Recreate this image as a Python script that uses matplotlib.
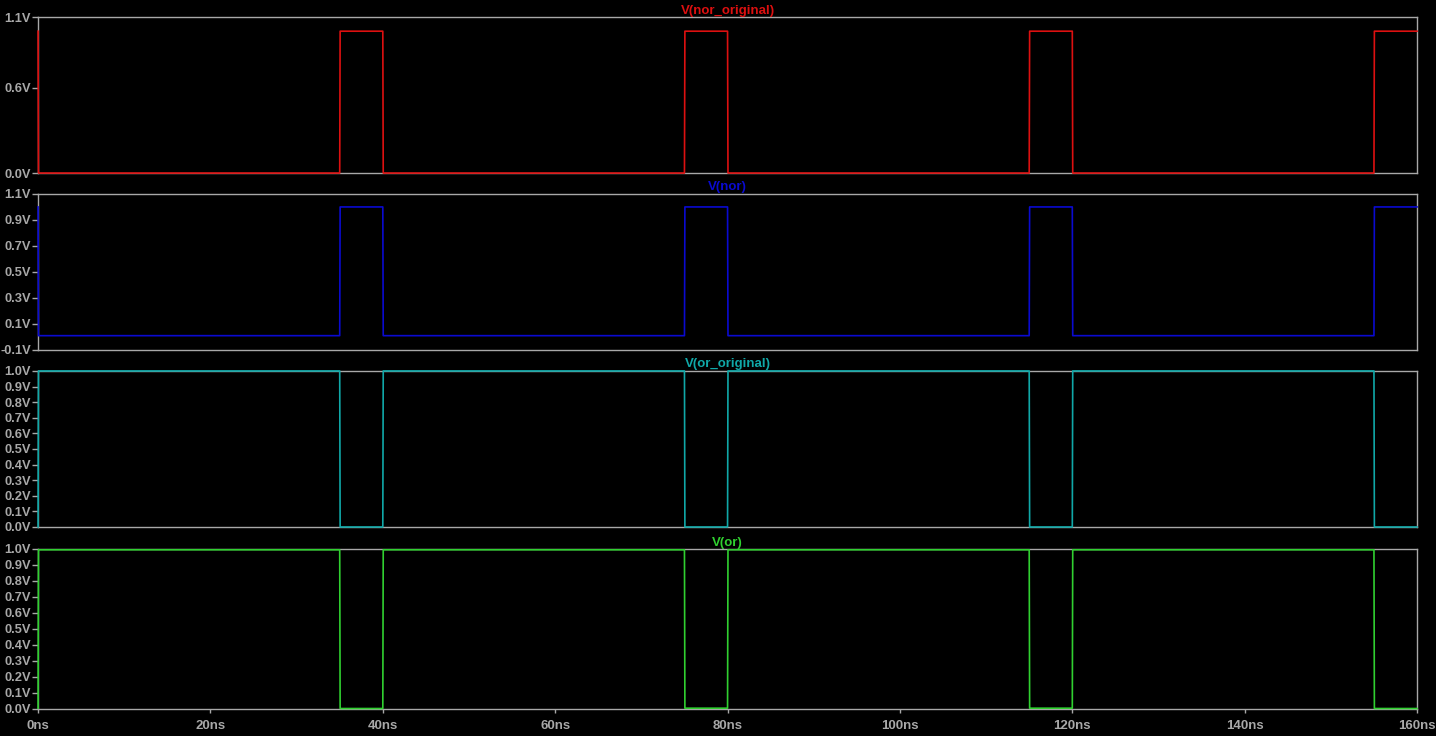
import numpy as np
import matplotlib
matplotlib.use('Agg')
import matplotlib.pyplot as plt

plt.rcParams['font.family'] = ['Liberation Sans', 'DejaVu Sans']
plt.rcParams['axes.unicode_minus'] = False

# transient waveforms (time in ns, volts)
t = [0, 0.05, 35, 35.05, 40, 40.05, 75, 75.05, 80, 80.05,
     115, 115.05, 120, 120.05, 155, 155.05, 160]
v_nor_original = [1.0, 0, 0, 1.0, 1.0, 0, 0, 1.0, 1.0, 0,
                  0, 1.0, 1.0, 0, 0, 1.0, 1.0]
v_nor = [1.0, 0.01, 0.01, 1.0, 1.0, 0.01, 0.01, 1.0, 1.0, 0.01,
         0.01, 1.0, 1.0, 0.01, 0.01, 1.0, 1.0]
v_or_original = [0, 1.0, 1.0, 0, 0, 1.0, 1.0, 0, 0, 1.0,
                 1.0, 0, 0, 1.0, 1.0, 0, 0]
v_or = [0.005, 0.995, 0.995, 0.003, 0.003, 0.995, 0.995, 0.005, 0.005, 0.995,
        0.995, 0.005, 0.005, 0.995, 0.995, 0.003, 0.003]

names = ['V(nor_original)', 'V(nor)', 'V(or_original)', 'V(or)']
colors = ['#dd1010', '#0a0ad0', '#10a8a8', '#30d030']
ylims = [(0, 1.1), (-0.1, 1.1), (0, 1.0), (0, 1.0)]
yticks = [[0, 0.6, 1.1],
          [-0.1, 0.1, 0.3, 0.5, 0.7, 0.9, 1.1],
          np.arange(0, 1.01, 0.1),
          np.arange(0, 1.01, 0.1)]
xticks = list(range(0, 161, 20))

# axes boxes in figure fraction (left, bottom, width, height)
boxes = [(0.0265, 0.7649, 0.9603, 0.2120),
         (0.0265, 0.5245, 0.9603, 0.2120),
         (0.0265, 0.2840, 0.9603, 0.2120),
         (0.0265, 0.0367, 0.9603, 0.2174)]

fig = plt.figure(figsize=(14.36, 7.36), dpi=100, facecolor='black')
grey = '#a8a8a8'

for i, v in enumerate([v_nor_original, v_nor, v_or_original, v_or]):
    ax = fig.add_axes(boxes[i], facecolor='black')
    ax.plot(t, v, color=colors[i], lw=1.2, zorder=3, clip_on=False)
    ax.set_xlim(0, 160)
    ax.set_ylim(*ylims[i])
    for s in ax.spines.values():
        s.set_color(grey)
        s.set_linewidth(1.0)
    ax.set_yticks(yticks[i])
    ax.set_yticklabels(['%.1fV' % y for y in yticks[i]])
    ax.tick_params(axis='y', colors=grey, length=4.5, width=1, pad=0.5,
                   labelsize=9.3)
    for lab in ax.get_yticklabels():
        lab.set_fontweight('bold')
    ax.set_xticks(xticks)
    if i == 3:
        ax.set_xticklabels(['%dns' % x for x in xticks])
        ax.tick_params(axis='x', colors=grey, length=3, width=1, pad=5,
                       labelsize=9.5)
        for lab in ax.get_xticklabels():
            lab.set_fontweight('bold')
    else:
        ax.tick_params(axis='x', length=0, labelbottom=False)
    ax.set_title(names[i], color=colors[i], fontsize=9.5, fontweight='bold',
                 pad=2.5)

fig.savefig('out.png', dpi=100, facecolor='black')
